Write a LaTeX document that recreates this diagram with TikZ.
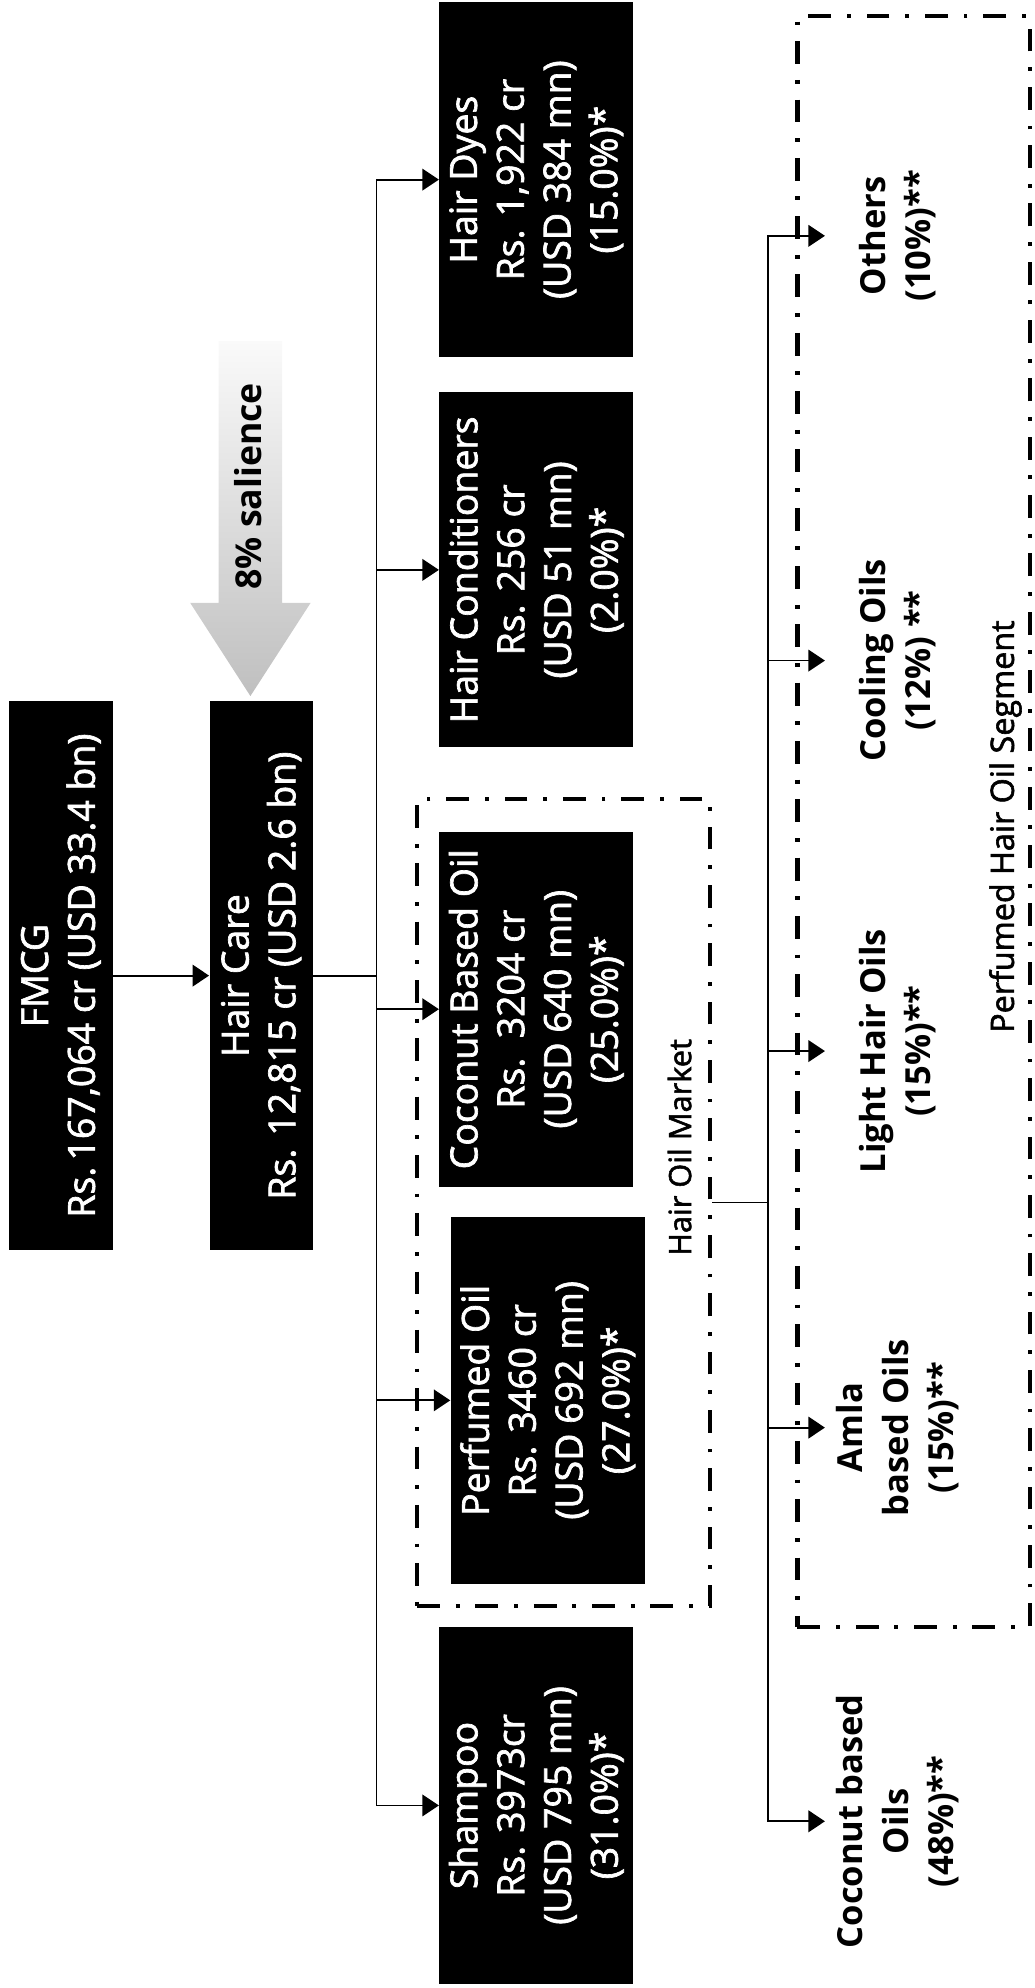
\documentclass[tikz,border=0pt]{standalone}
\usepackage{fontspec}
\setmainfont{Open Sans}
\newfontfamily\boxfont{Open Sans}[FakeBold=1.8]
\usepackage{tikz}
\usetikzlibrary{arrows.meta, positioning, calc}
\tikzset{
  mktbox/.style={fill=black, text=white, rotate=90, align=center, inner sep=0pt,
                 minimum height=3.06cm, font=\boxfont\fontsize{16.8}{21}\selectfont},
  topbox/.style={mktbox, minimum width=8.66cm, minimum height=1.63cm},
  seglabel/.style={rotate=90, align=center, inner sep=0pt, minimum height=2.28cm,
                   font=\bfseries\fontsize{15.5}{20.5}\selectfont},
  framelabel/.style={rotate=90, inner sep=0pt},
  dashframe/.style={draw, line width=1.8pt, inner sep=0pt,
                    dash pattern=on 0.36cm off 0.25cm on 0.06cm off 0.25cm},
  link/.style={line width=0.8pt},
  arr/.style={link, -{Triangle[length=0.26cm, width=0.34cm]}},
}

\begin{document}
\begin{tikzpicture}[line join=miter]
  \useasboundingbox (0,0) rectangle (16.32,-31.36);

  %% ── FMCG and Hair Care ──
  \node[topbox] (fmcg) at (0.96,-15.39) {FMCG\\Rs.\,167,064 cr (USD 33.4 bn)};
  \node[topbox] (haircare) at (4.12,-15.39) {Hair Care\\Rs. 12,815 cr (USD 2.6 bn)};
  \draw[arr] (fmcg.south) -- (haircare.north);

  % Salience arrow
  \shade[top color=gray!4, bottom color=gray!50]
    (3.45,-5.38) -- (4.45,-5.38) -- (4.45,-9.51) -- (4.9,-9.51)
    -- (3.95,-10.98) -- (3.0,-9.51) -- (3.45,-9.51) -- cycle;
  \node[framelabel, font=\bfseries\fontsize{16}{19}\selectfont] (salience) at (3.91,-7.67) {8\% salience};

  %% ── Hair care categories ──
  \node[mktbox, minimum width=5.6cm] (dyes) at (8.46,-2.834)
    {Hair Dyes\\Rs. 1,922 cr\\(USD 384 mn)\\(15.0\%)*};
  \node[mktbox, minimum width=5.6cm] (cond) at (8.46,-8.99)
    {Hair Conditioners\\Rs. 256 cr\\(USD 51 mn)\\(2.0\%)*};
  \node[mktbox, minimum width=5.6cm] (coco) at (8.46,-15.92)
    {Coconut Based Oil\\Rs.\ \ 3204 cr\\(USD 640 mn)\\(25.0\%)*};
  \node[mktbox, minimum width=5.78cm] (perf) at (8.64,-22.09)
    {Perfumed Oil\\Rs. 3460 cr\\(USD 692 mn)\\(27.0\%)*};
  \node[mktbox, minimum width=5.63cm] (shamp) at (8.46,-28.48)
    {Shampoo\\Rs. 3973cr\\(USD 795 mn)\\(31.0\%)*};

  \coordinate (hcfork) at (5.94,-15.39);
  \draw[link] (haircare.south) -- (hcfork);
  \foreach \n in {dyes,cond,coco,perf,shamp}
    \draw[arr] (hcfork) |- (\n.north);

  % Hair oil market frame
  \node[dashframe, minimum width=4.62cm, minimum height=12.74cm] (hom) at (8.89,-18.97) {};
  \node[framelabel, font=\boxfont\fontsize{13.8}{16}\selectfont] (homlabel) at (10.72,-18.1) {Hair Oil Market};

  %% ── Hair oil segments ──
  \node[dashframe, minimum width=3.66cm, minimum height=25.41cm] (segment) at (14.41,-12.965) {};
  \node[framelabel, font=\boxfont\fontsize{14.5}{17}\selectfont] (seglab) at (15.86,-13.04) {Perfumed Hair Oil Segment};

  \node[seglabel] (others) at (14.16,-3.72) {Others\\(10\%)**};
  \node[seglabel] (cooling) at (14.16,-10.42) {Cooling Oils\\(12\%) **};
  \node[seglabel] (light) at (14.16,-16.58) {Light Hair Oils\\(15\%)**};
  \node[seglabel] (amla) at (14.16,-22.52) {Amla\\based Oils\\(15\%)**};
  \node[seglabel] (cocobased) at (14.16,-28.73) {Coconut based\\Oils\\(48\%)**};

  \coordinate (oilfork) at (12.12,-18.97);
  \draw[link] (hom.east) -- (oilfork);
  \foreach \n in {others,cooling,light,amla,cocobased}
    \draw[arr] (oilfork) |- (\n.north);
\end{tikzpicture}
\end{document}
